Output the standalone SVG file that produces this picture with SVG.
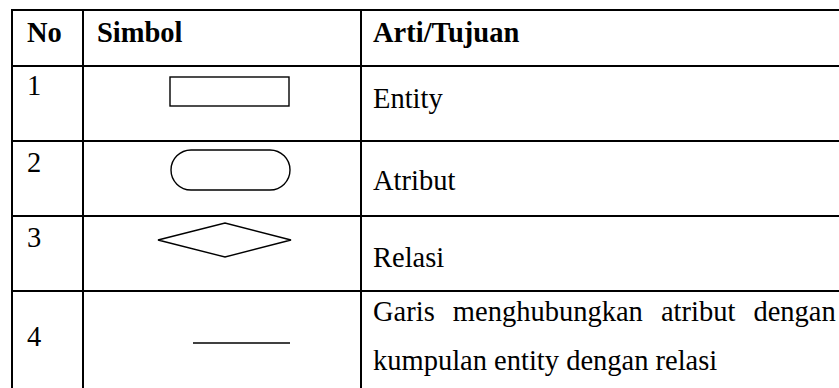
<svg xmlns="http://www.w3.org/2000/svg" width="839" height="388" viewBox="0 0 839 388">
<style>
.grid{stroke:#000;stroke-width:2;fill:none}
.sym{stroke:#000;stroke-width:1.4;fill:#fff}
.h{font-family:"Liberation Serif","Times New Roman",serif;font-weight:bold;font-size:28.5px;fill:#000}
.t{font-family:"Liberation Serif","Times New Roman",serif;font-size:28.5px;fill:#000}
</style>
<rect width="839" height="388" fill="#fff"/>
<g id="table" class="grid">
<line x1="11" y1="10" x2="845" y2="10"/>
<line x1="11" y1="66" x2="845" y2="66"/>
<line x1="11" y1="141" x2="845" y2="141"/>
<line x1="11" y1="216" x2="845" y2="216"/>
<line x1="11" y1="291" x2="845" y2="291"/>
<line x1="12" y1="9" x2="12" y2="388"/>
<line x1="83" y1="9" x2="83" y2="388"/>
<line x1="361" y1="9" x2="361" y2="388"/>
</g>
<g id="header">
<text class="h" x="27" y="42">No</text>
<text class="h" x="97" y="42">Simbol</text>
<text class="h" x="373" y="42">Arti/Tujuan</text>
</g>
<g id="row1">
<text class="t" x="27" y="95">1</text>
<rect class="sym" x="170" y="77" width="119" height="29"/>
<text class="t" x="373" y="108">Entity</text>
</g>
<g id="row2">
<text class="t" x="27" y="172">2</text>
<rect class="sym" x="171" y="150" width="119" height="40" rx="20" ry="20"/>
<text class="t" x="373" y="190">Atribut</text>
</g>
<g id="row3">
<text class="t" x="27" y="247">3</text>
<polygon class="sym" points="158,240 225,223 291,240 225,257"/>
<text class="t" x="373" y="267">Relasi</text>
</g>
<g id="row4">
<text class="t" x="27" y="346">4</text>
<line class="sym" x1="193" y1="343" x2="290" y2="343"/>
<text class="t" x="373" y="321" word-spacing="11">Garis menghubungkan atribut dengan</text>
<text class="t" x="373" y="370">kumpulan entity dengan relasi</text>
</g>
</svg>
